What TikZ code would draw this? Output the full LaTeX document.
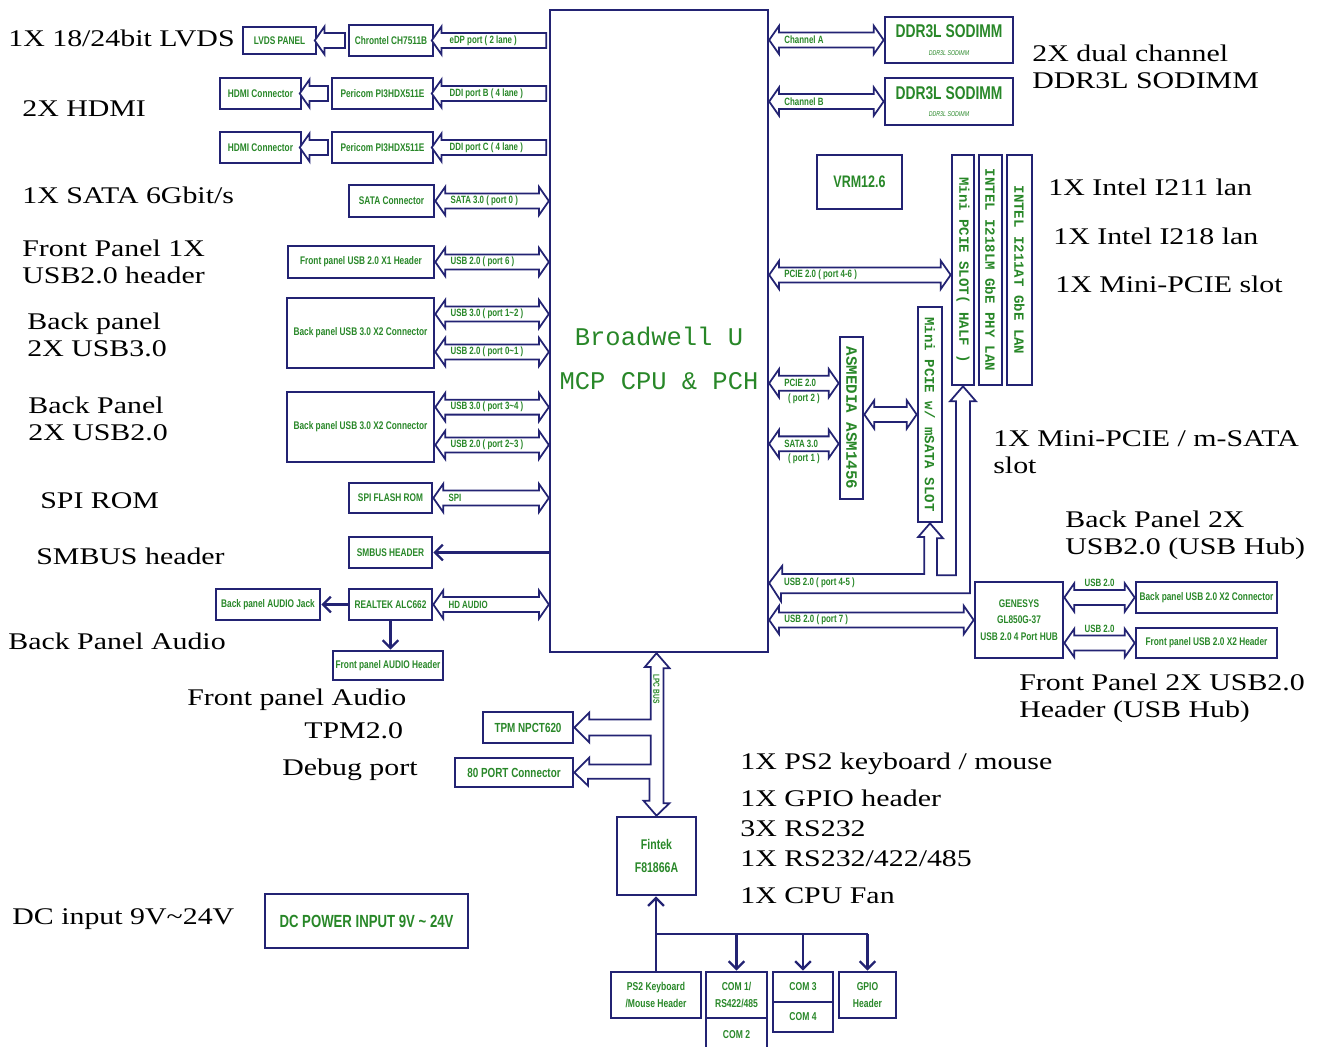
\documentclass[tikz,border=0pt]{standalone}
\usepackage{fontspec}
\usetikzlibrary{arrows.meta,shapes.arrows,calc}
\newfontfamily\lblfont[FakeStretch=1.25]{Liberation Serif}
\newfontfamily\chipfont[FakeStretch=0.75]{Liberation Sans}
\newfontfamily\cpufont{Liberation Mono}
\definecolor{boxblue}{RGB}{35,35,115}
\definecolor{chipgreen}{RGB}{40,135,40}

\tikzset{
  wh/.style 2 args={minimum width=#1*0.02cm, minimum height=#2*0.02cm},
  box/.style={draw=boxblue, line width=1.5pt, inner sep=0pt, text=chipgreen, align=center,
    font=\chipfont\bfseries\fontsize{6.3}{7.5}\selectfont},
  vtext/.style={rotate=-90, text=chipgreen, font=\cpufont\bfseries\fontsize{8}{9}\selectfont},
  busarrow/.style={draw=boxblue, line width=1pt, fill=white,
    inner xsep=2pt, inner ysep=0pt, text height=5pt, text depth=2.5pt},
  dbus/.style={busarrow, double arrow, double arrow head extend=3.8pt, double arrow tip angle=110},
  lbus/.style={busarrow, single arrow, shape border rotate=180, single arrow head extend=3.8pt,
    single arrow tip angle=110},
  buslbl/.style={text=chipgreen, inner sep=1pt, font=\chipfont\bfseries\fontsize{6}{6.5}\selectfont},
  pipe/.style={draw=boxblue, line width=1pt, fill=white},
  link/.style={draw=boxblue, line width=1.3pt, -{Straight Barb[length=4.5pt,width=9pt]}},
  wire/.style={draw=boxblue, line width=1.3pt},
  lbl/.style={anchor=west, inner sep=0pt, align=left, font=\lblfont\fontsize{13.6}{15.6}\selectfont},
}

% hollow bus arrow between the x of #2 and the point #3, label near its left end
\newcommand{\busbetween}[4][dbus]{%
  \path let \p1=(#2), \p2=(#3) in
    node[#1, minimum height={abs(\x2-\x1)}] at ({(\x1+\x2)/2},{\y2}) {}
    node[buslbl, anchor=west] at ({min(\x1,\x2)+7.5pt},{\y2}) {#4};}

\begin{document}
\begin{tikzpicture}[x=0.02cm, y=-0.02cm]
  \useasboundingbox (0,0) rectangle (1329,1046);

  % main chip
  \node[box, line width=1.3pt, wh={218}{642}] (cpu) at (659,331) {};
  \node[text=chipgreen, align=center, font=\cpufont\fontsize{14.5}{25}\selectfont] (cputxt) at (659,358) {Broadwell U\\MCP CPU \& PCH};

  % left side
  \node[box, wh={73}{27}] (lvds) at (279.5,40.5) {LVDS PANEL};
  \node[box, wh={84}{31}] (chr) at (391,40.5) {Chrontel CH7511B};
  \node[box, wh={81}{31}] (hdmiA) at (260.5,93.5) {HDMI Connector};
  \node[box, wh={101}{31}] (perA) at (382.5,93.5) {Pericom PI3HDX511E};
  \node[box, wh={81}{31}] (hdmiB) at (260.5,147.5) {HDMI Connector};
  \node[box, wh={101}{31}] (perB) at (382.5,147.5) {Pericom PI3HDX511E};
  \node[box, wh={85}{32}] (sata) at (391.5,201) {SATA Connector};
  \node[box, wh={146}{32}] (fusb) at (361,262) {Front panel USB 2.0 X1 Header};
  \node[box, wh={147}{70}] (bpuA) at (360.5,333) {Back panel USB 3.0 X2 Connector};
  \node[box, wh={147}{70}] (bpuB) at (360.5,427) {Back panel USB 3.0 X2 Connector};
  \node[box, wh={83}{30}] (spi) at (390.5,498) {SPI FLASH ROM};
  \node[box, wh={83}{31}] (smb) at (390.5,552.5) {SMBUS HEADER};
  \node[box, wh={83}{31}] (rtk) at (390.5,604.5) {REALTEK ALC662};
  \node[box, wh={104}{31}] (jack) at (268,604.5) {Back panel AUDIO Jack};
  \node[box, wh={110}{29}] (fah) at (388,665.5) {Front panel AUDIO Header};

  \busbetween[lbus]{chr.west}{lvds.east}{}
  \busbetween[lbus]{cpu.west}{chr.east}{eDP port ( 2 lane )}
  \busbetween[lbus]{perA.west}{hdmiA.east}{}
  \busbetween[lbus]{cpu.west}{perA.east}{DDI port B ( 4 lane )}
  \busbetween[lbus]{perB.west}{hdmiB.east}{}
  \busbetween[lbus]{cpu.west}{perB.east}{DDI port C ( 4 lane )}
  \busbetween{cpu.west}{sata.east}{SATA 3.0 ( port 0 )}
  \busbetween{cpu.west}{fusb.east}{USB 2.0 ( port 6 )}
  \busbetween{cpu.west}{[yshift=10.8pt]bpuA.east}{USB 3.0 ( port 1\textasciitilde2 )}
  \busbetween{cpu.west}{[yshift=-10.8pt]bpuA.east}{USB 2.0 ( port 0\textasciitilde1 )}
  \busbetween{cpu.west}{[yshift=11.3pt]bpuB.east}{USB 3.0 ( port 3\textasciitilde4 )}
  \busbetween{cpu.west}{[yshift=-10.2pt]bpuB.east}{USB 2.0 ( port 2\textasciitilde3 )}
  \busbetween{cpu.west}{spi.east}{SPI}
  \busbetween{cpu.west}{rtk.east}{HD AUDIO}
  \draw[link] (cpu.west |- smb.east) -- (smb.east);
  \draw[link] (rtk.west) -- (jack.east);
  \draw[link] (rtk.south) -- (rtk.south |- fah.north);

  % right side
  \node[box, wh={128}{46}, font=\chipfont\bfseries\fontsize{10.5}{11}\selectfont] (ddrA) at (949,40) {DDR3L SODIMM\\[-1pt]{\fontsize{4}{4}\selectfont\mdseries\itshape DDR3L SODIMM}};
  \node[box, wh={128}{47}, font=\chipfont\bfseries\fontsize{10.5}{11}\selectfont] (ddrB) at (949,101.5) {DDR3L SODIMM\\[-1pt]{\fontsize{4}{4}\selectfont\mdseries\itshape DDR3L SODIMM}};
  \node[box, wh={85}{54}, font=\chipfont\bfseries\fontsize{9.5}{10}\selectfont] (vrm) at (859.5,182) {VRM12.6};
  \node[box, wh={22}{230}, label={[vtext]center:Mini PCIE SLOT( HALF )}] (mph) at (963,270) {};
  \node[box, wh={23}{230}, label={[vtext]center:INTEL I218LM GbE PHY LAN}] (i218) at (990.5,270) {};
  \node[box, wh={25}{230}, label={[vtext]center:INTEL I211AT GbE LAN}] (i211) at (1019.5,270) {};
  \node[box, wh={23}{162}, label={[vtext, font=\cpufont\bfseries\fontsize{9}{9}\selectfont]center:ASMEDIA ASM1456}] (asm) at (851.5,418) {};
  \node[box, wh={24}{215}, label={[vtext]center:Mini PCIE w/ mSATA SLOT}] (msata) at (930,414.5) {};
  \node[box, wh={88}{76}, font=\chipfont\bfseries\fontsize{6.3}{9.5}\selectfont] (hub) at (1019,620) {GENESYS\\GL850G-37\\USB 2.0 4 Port HUB};
  \node[box, wh={141}{31}] (bpu2) at (1206.5,597.5) {Back panel USB 2.0 X2 Connector};
  \node[box, wh={141}{30}] (fpu2) at (1206.5,643) {Front panel USB 2.0 X2 Header};

  \busbetween{cpu.east}{ddrA.west}{Channel A}
  \busbetween{cpu.east}{ddrB.west}{Channel B}
  \busbetween{cpu.east}{[yshift=-2.8pt]mph.west}{PCIE 2.0 ( port 4-6 )}
  \busbetween[dbus, label={[buslbl]below:( port 2 )}]{cpu.east}{[yshift=19.8pt]asm.west}{PCIE 2.0}
  \busbetween[dbus, label={[buslbl]below:( port 1 )}]{cpu.east}{[yshift=-14.7pt]asm.west}{SATA 3.0}
  \busbetween{asm.east}{msata.west}{}
  \busbetween{cpu.east}{hub.west}{USB 2.0 ( port 7 )}
  \busbetween[dbus, label={[buslbl]north:USB 2.0}]{hub.east}{bpu2.west}{}
  \busbetween[dbus, label={[buslbl]north:USB 2.0}]{hub.east}{fpu2.west}{}

  % USB 2.0 port 4-5, split to both mini PCIE slots
  \coordinate (u45) at (cpu.east |- 0,583);
  \draw[pipe] (u45) -- ++(13,-17) -- ++(0,8) -- ++(142,0) -- ++(0,-37) -- ++(-6,0)
    -- (msata.south) -- ++(13,15) -- ++(-6,0) -- ++(0,37) -- ++(19,0) -- ++(0,-174) -- ++(-6,0)
    -- (mph.south) -- ++(13,15) -- ++(-6,0) -- ++(0,192) -- ++(-189,0) -- ++(0,8) -- cycle;
  \node[buslbl, anchor=west] (u45lbl) at (782,583) {USB 2.0 ( port 4-5 )};

  % LPC bus
  \node[box, wh={90}{31}, font=\chipfont\bfseries\fontsize{7.5}{8}\selectfont] (tpm) at (528,727.5) {TPM NPCT620};
  \node[box, wh={118}{29}, font=\chipfont\bfseries\fontsize{7.5}{8}\selectfont] (port80) at (514,772.5) {80 PORT Connector};
  \node[box, wh={79}{78}, font=\chipfont\bfseries\fontsize{8}{13}\selectfont] (fintek) at (656.5,856) {Fintek\\F81866A};
  \coordinate (lpctop) at (fintek.north |- cpu.south);
  \draw[pipe] (lpctop) -- ++(13,15) -- ++(-6,0) -- ++(0,135) -- ++(6,0) -- (fintek.north)
    -- ++(-13,-15) -- ++(6,0) -- ++(0,-22) -- ++(-61.5,0) -- ++(0,7) -- (port80.east)
    -- ++(15,-15) -- ++(0,7) -- ++(61.5,0) -- ++(0,-29) -- ++(-61.5,0) -- ++(0,7) -- (tpm.east)
    -- ++(15,-15) -- ++(0,7) -- ++(61.5,0) -- ++(0,-52.5) -- ++(-6,0) -- cycle;
  \node[buslbl, rotate=-90, font=\chipfont\bfseries\fontsize{5}{5}\selectfont] (lpclbl) at (656.5,689) {LPC BUS};

  % super I/O
  \node[box, wh={90}{46}, font=\chipfont\bfseries\fontsize{6.5}{9.5}\selectfont] (ps2) at (656,995) {PS2 Keyboard\\/Mouse Header};
  \node[box, wh={61}{46}, font=\chipfont\bfseries\fontsize{6.5}{9.5}\selectfont] (com1) at (736.5,995) {COM 1/\\RS422/485};
  \node[box, wh={61}{34}, font=\chipfont\bfseries\fontsize{6.5}{8}\selectfont] (com2) at (736.5,1035) {COM 2};
  \node[box, wh={60}{30}, font=\chipfont\bfseries\fontsize{6.5}{8}\selectfont] (com3) at (803,987) {COM 3};
  \node[box, wh={60}{30}, font=\chipfont\bfseries\fontsize{6.5}{8}\selectfont] (com4) at (803,1017) {COM 4};
  \node[box, wh={57}{46}, font=\chipfont\bfseries\fontsize{6.5}{9.5}\selectfont] (gpio) at (867.5,995) {GPIO\\Header};
  \coordinate (sio) at (ps2.north |- 0,934);
  \draw[wire] (ps2.north) -- (sio) -- (sio -| gpio.north);
  \draw[link] (sio) -- (ps2.north |- fintek.south);
  \draw[link] (sio -| com1.north) -- (com1.north);
  \draw[link] (sio -| com3.north) -- (com3.north);
  \draw[link] (sio -| gpio.north) -- (gpio.north);

  \node[box, wh={203}{54}, font=\chipfont\bfseries\fontsize{10}{11}\selectfont] (dc) at (366.5,921) {DC POWER INPUT 9V \textasciitilde{} 24V};

  % captions
  \node[lbl] (tLVDS) at (8,38) {1X 18/24bit LVDS};
  \node[lbl] (tHDMI) at (22,109) {2X HDMI};
  \node[lbl] (tSATA) at (22,195) {1X SATA 6Gbit/s};
  \node[lbl] (tFUSB) at (22,262) {Front Panel 1X\\USB2.0 header};
  \node[lbl] (tBP3) at (27,335) {Back panel\\2X USB3.0};
  \node[lbl] (tBP2) at (28,419) {Back Panel\\2X USB2.0};
  \node[lbl] (tSPI) at (40,501) {SPI ROM};
  \node[lbl] (tSMB) at (36,556) {SMBUS header};
  \node[lbl] (tAUD) at (8,641) {Back Panel Audio};
  \node[lbl] (tFAUD) at (187,700) {Front panel Audio};
  \node[lbl] (tTPM) at (304,731) {TPM2.0};
  \node[lbl] (tDBG) at (282,770) {Debug port};
  \node[lbl] (tDC) at (12,919) {DC input 9V\textasciitilde24V};
  \node[lbl] (tDDR) at (1032,67) {2X dual channel\\DDR3L SODIMM};
  \node[lbl] (tI211) at (1048,187) {1X Intel I211 lan};
  \node[lbl] (tI218) at (1053,236) {1X Intel I218 lan};
  \node[lbl] (tMPC) at (1055,284) {1X Mini-PCIE slot};
  \node[lbl] (tMSA) at (993,452) {1X Mini-PCIE / m-SATA\\slot};
  \node[lbl] (tBPH) at (1065,535) {Back Panel 2X\\USB2.0 (USB Hub)};
  \node[lbl] (tFPH) at (1019,698) {Front Panel 2X USB2.0\\Header (USB Hub)};
  \node[lbl] (tPS2) at (740,764) {1X PS2 keyboard / mouse};
  \node[lbl] (tGPIO) at (740,798) {1X GPIO header};
  \node[lbl] (tRS) at (740,829) {3X RS232};
  \node[lbl] (tRS4) at (740,859) {1X RS232/422/485};
  \node[lbl] (tFAN) at (740,896) {1X CPU Fan};
\end{tikzpicture}
\end{document}
